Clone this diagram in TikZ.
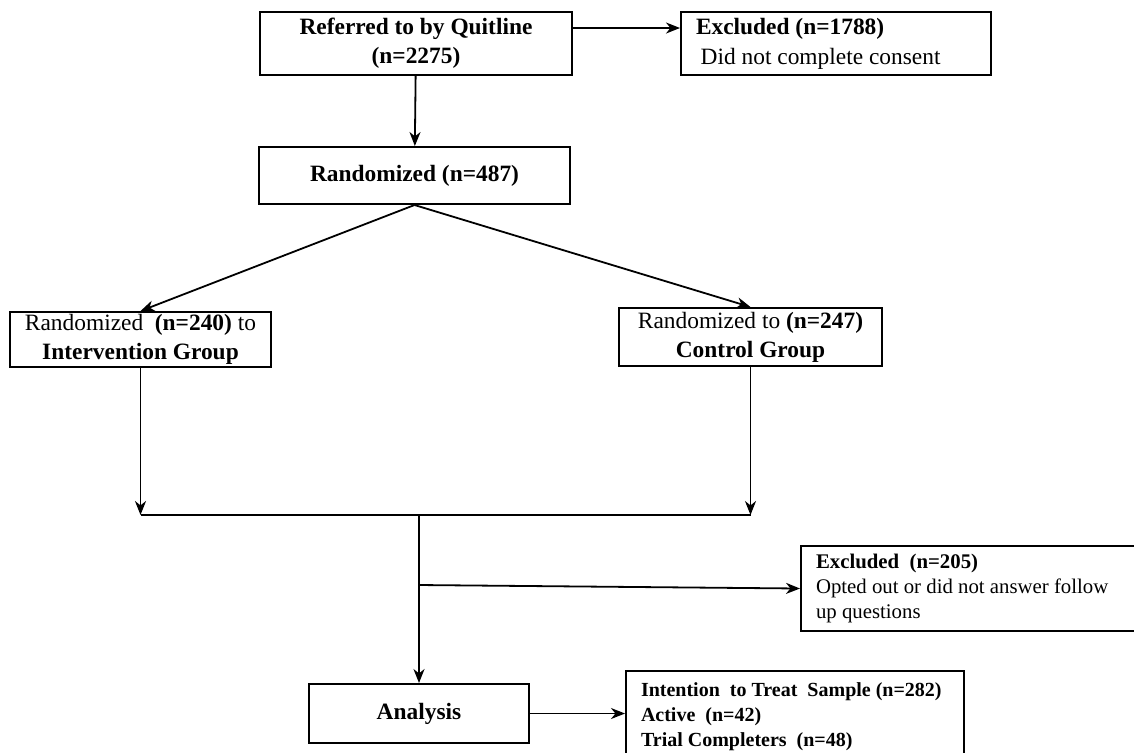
\documentclass[tikz,border=0pt]{standalone}
\usepackage{fontspec}
\setmainfont{Liberation Serif}
\usetikzlibrary{arrows.meta}

\begin{document}
\begin{tikzpicture}[x=0.5pt,y=-0.5pt,
  box/.style={draw,line width=1pt,align=center,inner sep=0pt,font=\fontsize{11.7}{14.5}\selectfont},
  leftbox/.style={draw,line width=1pt,align=flush left,inner xsep=7.5pt,inner ysep=0pt,font=\fontsize{10.4}{12.5}\selectfont},
  arr/.style={line width=0.9pt,-{Stealth[length=7pt,width=5.5pt,inset=2.2pt]}},
  conn/.style={line width=0.9pt}]
\useasboundingbox (0,0) rectangle (1134,752);
\node[box,minimum width=156pt,minimum height=31.5pt] (refer) at (416,43.5) {\textbf{Referred to by Quitline}\\\textbf{(n=2275)}};
\node[leftbox,font=\fontsize{11.7}{15}\selectfont,text width=140pt,minimum height=31.5pt] (excl1) at (836,43.5) {\textbf{Excluded (n=1788)}\\\hspace*{0.2em}Did not complete consent};
\node[box,minimum width=155.5pt,minimum height=28.5pt] (rand) at (414.5,175.5) {\textbf{Randomized (n=487)}};
\node[box,minimum width=130.5pt,minimum height=27.5pt] (interv) at (140.5,339.5) {Randomized\ \ \textbf{(n=240)} to\\\textbf{Intervention Group}};
\node[box,minimum width=131.5pt,minimum height=29pt] (ctrl) at (750.5,337) {Randomized to \textbf{(n=247)}\\\textbf{Control Group}};
\node[box,minimum width=110pt,minimum height=29.5pt] (analysis) at (419,713.5) {\textbf{Analysis}};
\node[leftbox,text width=159.5pt,minimum height=42.5pt] (excl2) at (975.5,588.5) {\textbf{Excluded\ \ (n=205)}\\Opted out or did not answer follow\\up questions};
\node[leftbox,font=\fontsize{10}{12.6}\selectfont,text width=154pt,minimum height=45.5pt] (intent) at (795,716.5) {\textbf{Intention\ \ to Treat\ \ Sample (n=282)}\\\textbf{Active\ \ (n=42)}\\\textbf{Trial Completers\ \ (n=48)}};
\coordinate (jl) at (interv.south |- 0,515);
\coordinate (jr) at (ctrl.south |- 0,515);
\coordinate (jm) at (analysis.north |- 0,515);
\coordinate (br) at (analysis.north |- 0,585);
\draw[arr] ([yshift=7.75pt]refer.east) -- ([yshift=7.75pt]excl1.west);
\draw[arr] (refer) -- (rand);
\draw[arr] (rand.south) -- (interv.north);
\draw[arr] (rand.south) -- (ctrl.north);
\draw[arr] (interv) -- (jl);
\draw[arr] (ctrl) -- (jr);
\draw[conn] (jl) -- (jr);
\draw[arr] (jm) -- (analysis);
\draw[arr] (br) -- (excl2.west);
\draw[arr] (analysis.east) -- (analysis.east -| intent.west);
\end{tikzpicture}
\end{document}
